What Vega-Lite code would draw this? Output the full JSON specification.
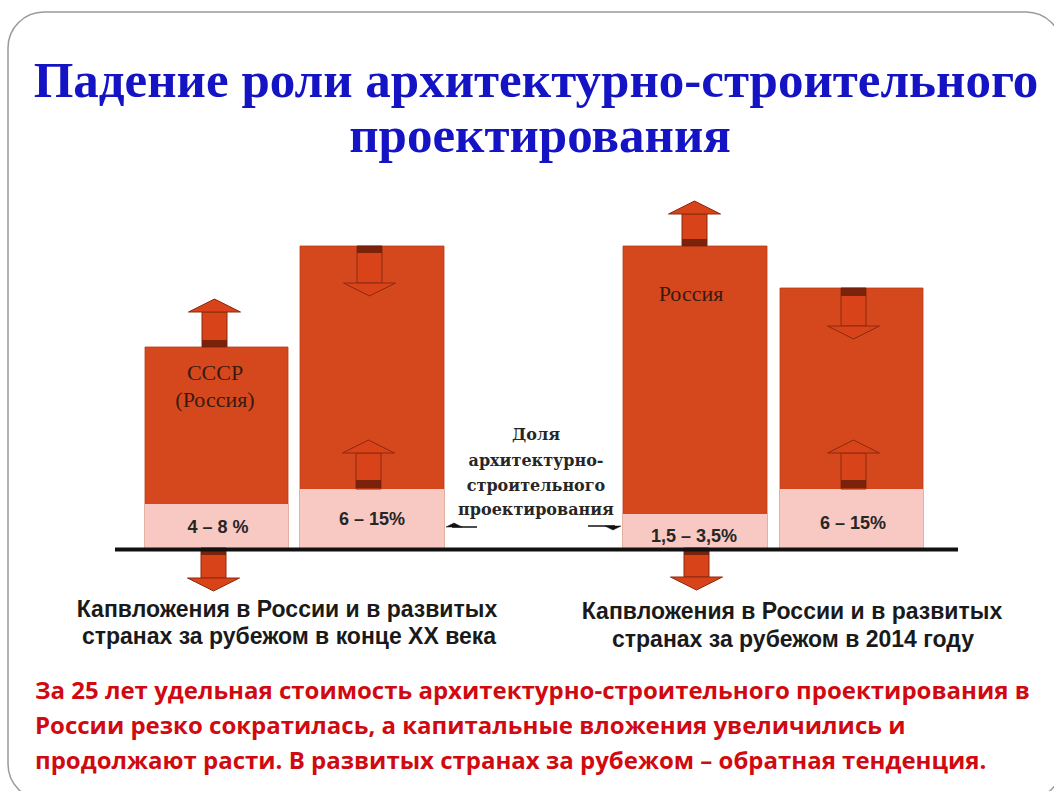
{
  "$schema": "https://vega.github.io/schema/vega-lite/v6.json",
  "width": 1054,
  "height": 791,
  "autosize": {"type": "none"},
  "padding": 0,
  "background": "white",
  "config": {"view": {"stroke": null}},
  "datasets": {
    "frame": [{"x": 8, "x2": 1062, "y": 536, "y2": -252}],
    "bars": [
      {"bar": "СССР (Россия), конец XX века", "x": 145, "x2": 288, "y": 0, "total": 201, "share": 44},
      {"bar": "Развитые страны, конец XX века", "x": 300, "x2": 444, "y": 0, "total": 302, "share": 59},
      {"bar": "Россия, 2014", "x": 623, "x2": 767, "y": 0, "total": 302, "share": 34},
      {"bar": "Развитые страны, 2014", "x": 780, "x2": 923, "y": 0, "total": 260, "share": 59}
    ],
    "arrows": [
      {"x": 214.5, "x0": 202, "x1": 227, "y": 201, "yhead": 236, "b0": 201, "b1": 208, "dir": "up"},
      {"x": 369.5, "x0": 357, "x1": 382, "y": 302, "yhead": 265, "b0": 295, "b1": 302, "dir": "down"},
      {"x": 368.5, "x0": 356, "x1": 381, "y": 59, "yhead": 95, "b0": 60, "b1": 68, "dir": "up"},
      {"x": 694.5, "x0": 682, "x1": 707, "y": 302, "yhead": 334, "b0": 302, "b1": 309, "dir": "up"},
      {"x": 213.5, "x0": 201, "x1": 226, "y": 0, "yhead": -30, "b0": -7, "b1": -2, "dir": "down"},
      {"x": 696.5, "x0": 684, "x1": 709, "y": 0, "yhead": -29, "b0": -7, "b1": -2, "dir": "down"},
      {"x": 853.5, "x0": 841, "x1": 866, "y": 260, "yhead": 222, "b0": 252, "b1": 260, "dir": "down"},
      {"x": 853.5, "x0": 841, "x1": 866, "y": 59, "yhead": 95, "b0": 60, "b1": 68, "dir": "up"}
    ],
    "pointers": [
      {"x": 452, "x2": 477, "y": 21, "hx": 454, "dir": "left"},
      {"x": 588, "x2": 615, "y": 22, "hx": 613, "dir": "right"}
    ],
    "baseline": [{"x": 115, "x2": 958, "y": -1.5}],
    "title": [
      {"text": "Падение роли архитектурно-строительного", "x": 536, "y": 451},
      {"text": "проектирования", "x": 540, "y": 396}
    ],
    "names": [
      {"text": "СССР", "x": 215, "y": 175},
      {"text": "(Россия)", "x": 215, "y": 148},
      {"text": "Россия", "x": 691, "y": 254}
    ],
    "shares": [
      {"text": "4 – 8 %", "x": 218, "y": 20},
      {"text": "6 – 15%", "x": 372, "y": 28},
      {"text": "1,5 – 3,5%", "x": 694, "y": 11},
      {"text": "6 – 15%", "x": 853, "y": 24}
    ],
    "middle": [
      {"text": "Доля", "x": 536, "y": 113},
      {"text": "архитектурно-", "x": 536, "y": 87},
      {"text": "строительного", "x": 536, "y": 62},
      {"text": "проектирования", "x": 536, "y": 38}
    ],
    "captions": [
      {"text": "Капвложения в России и в развитых", "x": 287, "y": -62},
      {"text": "странах за рубежом в конце XX века", "x": 289, "y": -89},
      {"text": "Капвложения в России и в развитых", "x": 792, "y": -64},
      {"text": "странах за рубежом в 2014 году", "x": 793, "y": -92}
    ],
    "conclusion": [
      {"text": "За 25 лет удельная стоимость архитектурно-строительного проектирования в", "x": 35, "y": -144},
      {"text": "России резко сократилась, а капитальные вложения увеличились и", "x": 35, "y": -179},
      {"text": "продолжают расти. В развитых странах за рубежом – обратная тенденция.", "x": 35, "y": -214}
    ]
  },
  "encoding": {
    "x": {"field": "x", "type": "quantitative", "scale": {"domain": [0, 1054], "nice": false, "zero": false}, "axis": null},
    "y": {"field": "y", "type": "quantitative", "scale": {"domain": [-243, 548], "nice": false, "zero": false}, "axis": null}
  },
  "layer": [
    {
      "data": {"name": "frame"},
      "mark": {"type": "rect", "fill": null, "stroke": "#9a9a9a", "strokeWidth": 1.5, "cornerRadius": 36},
      "encoding": {"x2": {"field": "x2"}, "y2": {"field": "y2"}}
    },
    {
      "data": {"name": "bars"},
      "mark": {"type": "rect", "fill": "#d5481d", "stroke": "#b83c16", "strokeWidth": 0.8},
      "encoding": {"x2": {"field": "x2"}, "y2": {"field": "total"}}
    },
    {
      "data": {"name": "bars"},
      "mark": {"type": "rect", "fill": "#f8c8c2"},
      "encoding": {"x2": {"field": "x2"}, "y2": {"field": "share"}}
    },
    {
      "data": {"name": "arrows"},
      "mark": {"type": "rect", "fill": "#d8431a", "stroke": "#8c2a0e", "strokeWidth": 1},
      "encoding": {"x": {"field": "x0"}, "x2": {"field": "x1"}, "y2": {"field": "yhead"}}
    },
    {
      "data": {"name": "arrows"},
      "mark": {"type": "rect", "fill": "#6a1c08", "opacity": 0.85},
      "encoding": {"x": {"field": "x0"}, "x2": {"field": "x1"}, "y": {"field": "b0"}, "y2": {"field": "b1"}}
    },
    {
      "data": {"name": "arrows"},
      "mark": {"type": "point", "filled": true, "fill": "#d8431a", "stroke": "#8c2a0e", "strokeWidth": 1, "opacity": 1, "size": 2704},
      "encoding": {
        "y": {"field": "yhead"},
        "shape": {"field": "dir", "type": "nominal", "legend": null, "scale": {"domain": ["up", "down"], "range": ["M -1 0 L 0 -0.5 L 1 0 Z", "M -1 0 L 0 0.5 L 1 0 Z"]}}
      }
    },
    {
      "data": {"name": "baseline"},
      "mark": {"type": "rule", "color": "#111111", "strokeWidth": 4},
      "encoding": {"x2": {"field": "x2"}}
    },
    {
      "data": {"name": "pointers"},
      "mark": {"type": "rule", "color": "#111111", "strokeWidth": 1.5},
      "encoding": {"x2": {"field": "x2"}}
    },
    {
      "data": {"name": "pointers"},
      "mark": {"type": "point", "filled": true, "fill": "#111111", "stroke": "#111111", "strokeWidth": 0.5, "opacity": 1, "size": 256},
      "encoding": {
        "x": {"field": "hx"},
        "shape": {"field": "dir", "type": "nominal", "legend": null, "scale": {"domain": ["left", "right"], "range": ["M -1 0 L 0.1 -0.4 L 0.1 0.4 Z", "M 1 0 L -0.1 -0.4 L -0.1 0.4 Z"]}}
      }
    },
    {
      "data": {"name": "title"},
      "mark": {"type": "text", "font": "Liberation Serif", "fontWeight": "bold", "fontSize": 51, "fill": "#1414c4", "align": "center", "baseline": "alphabetic"},
      "encoding": {"text": {"field": "text"}}
    },
    {
      "data": {"name": "names"},
      "mark": {"type": "text", "font": "Liberation Serif", "fontSize": 22, "fill": "#3a1a10", "align": "center", "baseline": "middle"},
      "encoding": {"text": {"field": "text"}}
    },
    {
      "data": {"name": "shares"},
      "mark": {"type": "text", "font": "Liberation Sans", "fontWeight": "bold", "fontSize": 18, "fill": "#262626", "align": "center", "baseline": "middle"},
      "encoding": {"text": {"field": "text"}}
    },
    {
      "data": {"name": "middle"},
      "mark": {"type": "text", "font": "DejaVu Serif", "fontWeight": "bold", "fontSize": 16, "fill": "#262626", "align": "center", "baseline": "middle"},
      "encoding": {"text": {"field": "text"}}
    },
    {
      "data": {"name": "captions"},
      "mark": {"type": "text", "font": "Liberation Sans", "fontWeight": "bold", "fontSize": 23, "fill": "#1a1a1a", "align": "center", "baseline": "middle"},
      "encoding": {"text": {"field": "text"}}
    },
    {
      "data": {"name": "conclusion"},
      "mark": {"type": "text", "font": "Open Sans", "fontWeight": "bold", "fontSize": 24, "fill": "#d00a10", "align": "left", "baseline": "middle"},
      "encoding": {"text": {"field": "text"}}
    }
  ]
}
